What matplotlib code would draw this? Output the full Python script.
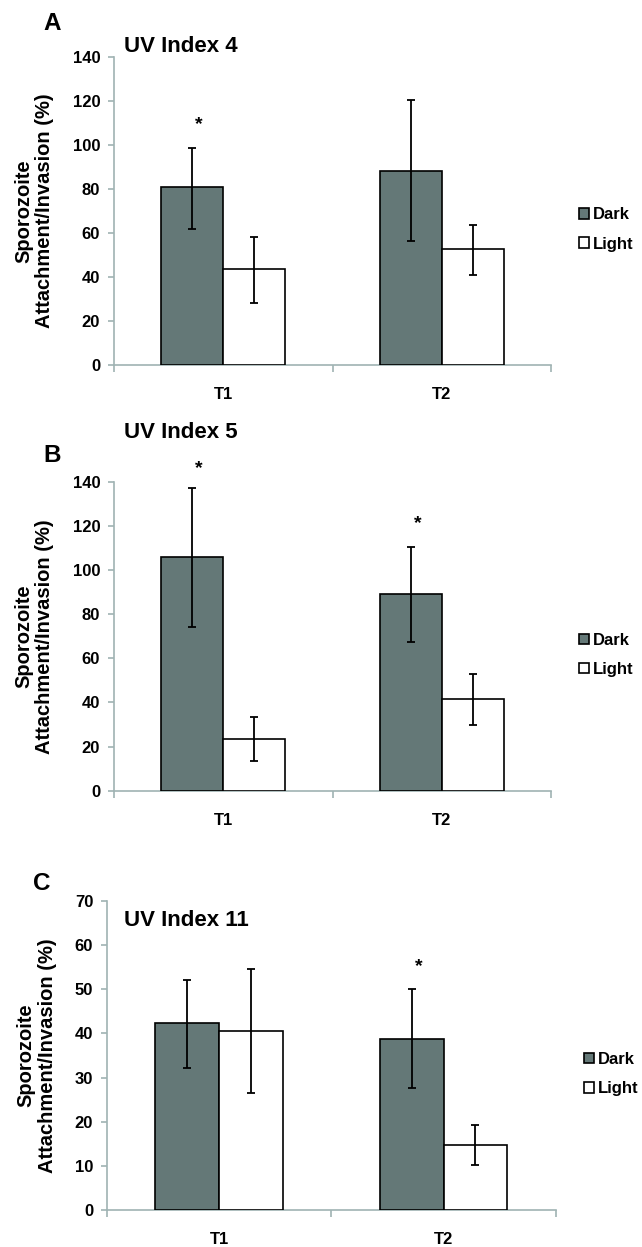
import numpy as np
import matplotlib.pyplot as plt

plt.rcParams['font.family'] = ['Liberation Sans', 'DejaVu Sans']
plt.rcParams['font.weight'] = 'bold'

times = ['T1', 'T2']
series = ['Dark', 'Light']

# panel A: UV index 4
a_dark = [81, 88.3]
a_dark_err_lo = [62, 56.4]
a_dark_err_hi = [98.8, 120.6]
a_light = [43.6, 52.7]
a_light_err_lo = [28.3, 40.9]
a_light_err_hi = [58, 63.5]

# panel B: UV index 5
b_dark = [105.7, 89.3]
b_dark_err_lo = [74.2, 67.5]
b_dark_err_hi = [137.3, 110.4]
b_light = [23.3, 41.4]
b_light_err_lo = [13.6, 29.8]
b_light_err_hi = [33.5, 52.9]

# panel C: UV index 11
c_dark = [42.3, 38.8]
c_dark_err_lo = [32.2, 27.6]
c_dark_err_hi = [52.1, 50.1]
c_light = [40.6, 14.7]
c_light_err_lo = [26.4, 10.2]
c_light_err_hi = [54.5, 19.3]

# asterisk positions (category index, y value)
a_stars = [(0, 109.5)]
b_stars = [(0, 146), (1, 121)]
c_stars = [(1, 55.1)]

dark_color = '#647877'
axis_color = '#a0b3b3'

panels = [
    dict(letter='A', title='UV Index 4', ymax=140, step=20,
         dark=a_dark, dlo=a_dark_err_lo, dhi=a_dark_err_hi,
         light=a_light, llo=a_light_err_lo, lhi=a_light_err_hi, stars=a_stars,
         rect=[0.1776, 0.7073, 0.681, 0.247], letter_xy=(52, 23), title_xy=(124, 47)),
    dict(letter='B', title='UV Index 5', ymax=140, step=20,
         dark=b_dark, dlo=b_dark_err_lo, dhi=b_dark_err_hi,
         light=b_light, llo=b_light_err_lo, lhi=b_light_err_hi, stars=b_stars,
         rect=[0.1776, 0.3659, 0.681, 0.2478], letter_xy=(52, 455), title_xy=(124, 433)),
    dict(letter='C', title='UV Index 11', ymax=70, step=10,
         dark=c_dark, dlo=c_dark_err_lo, dhi=c_dark_err_hi,
         light=c_light, llo=c_light_err_lo, lhi=c_light_err_hi, stars=c_stars,
         rect=[0.1667, 0.0297, 0.699, 0.2478], letter_xy=(42, 883), title_xy=(124, 920)),
]

W, H = 642, 1247
fig = plt.figure(figsize=(W / 100, H / 100), dpi=100)

x = np.arange(len(times))
w = 0.284

for p in panels:
    ax = fig.add_axes(p['rect'])
    dark = np.array(p['dark'])
    light = np.array(p['light'])
    derr = [dark - np.array(p['dlo']), np.array(p['dhi']) - dark]
    lerr = [light - np.array(p['llo']), np.array(p['lhi']) - light]

    ax.bar(x - w / 2, dark, w, color=dark_color, edgecolor='black', linewidth=1.2,
           label='Dark', zorder=3)
    ax.bar(x + w / 2, light, w, color='white', edgecolor='black', linewidth=1.2,
           label='Light', zorder=3)
    ax.errorbar(x - w / 2, dark, yerr=derr, fmt='none', ecolor='black',
                elinewidth=1.3, capsize=3, capthick=1.3, zorder=4)
    ax.errorbar(x + w / 2, light, yerr=lerr, fmt='none', ecolor='black',
                elinewidth=1.3, capsize=3, capthick=1.3, zorder=4)

    for ci, yv in p['stars']:
        ax.text(ci - w / 2 + 0.03, yv, '*', ha='center', va='center',
                fontsize=14, fontweight='bold', clip_on=False)

    ax.set_xlim(-0.5, 1.5)
    ax.set_ylim(0, p['ymax'])
    ax.set_yticks(np.arange(0, p['ymax'] + 1, p['step']))
    ax.set_xticks([-0.5, 0.5, 1.5])
    ax.set_xticklabels([])
    ax.set_xticks(x, minor=True)
    ax.set_xticklabels(times, minor=True)
    ax.tick_params(axis='x', which='minor', length=0, pad=16, labelsize=12)
    ax.tick_params(axis='x', which='major', length=5, color=axis_color, width=1.2)
    ax.tick_params(axis='y', length=4, color=axis_color, width=1.2, labelsize=12, pad=6)

    for s in ['top', 'right']:
        ax.spines[s].set_visible(False)
    for s in ['left', 'bottom']:
        ax.spines[s].set_color(axis_color)
        ax.spines[s].set_linewidth(1.2)

    ax.set_ylabel('Sporozoite\nAttachment/Invasion (%)', fontsize=14.5,
                  fontweight='bold', labelpad=13, linespacing=1.15)

    ax.legend(loc='center left', bbox_to_anchor=(1.03, 0.44), frameon=False,
              handlelength=0.6, handleheight=0.6, handletextpad=0.2,
              labelspacing=0.85, prop={'size': 12, 'weight': 'bold'})

    fig.text(p['letter_xy'][0] / W, 1 - p['letter_xy'][1] / H, p['letter'],
             fontsize=17.5, fontweight='bold', ha='center', va='center')
    fig.text(p['title_xy'][0] / W, 1 - p['title_xy'][1] / H, p['title'],
             fontsize=16, fontweight='bold', ha='left', va='center')

fig.savefig('out.png', dpi=100)
